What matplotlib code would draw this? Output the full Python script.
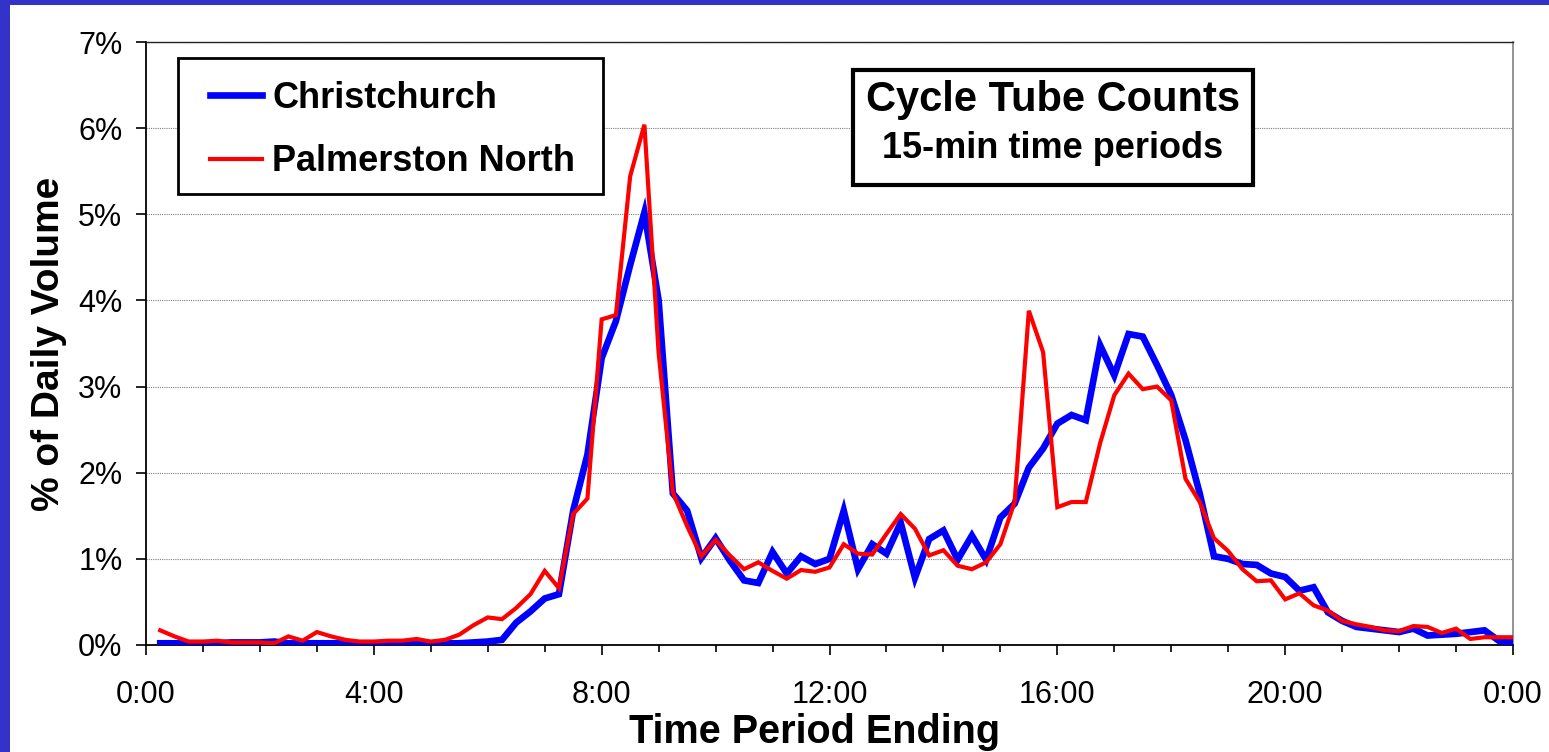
import matplotlib
matplotlib.use("Agg")
import matplotlib.pyplot as plt
from matplotlib.patches import Rectangle
from matplotlib.ticker import FixedLocator, FuncFormatter
import numpy as np

plt.rcParams['font.family'] = ['Liberation Sans', 'DejaVu Sans']

# 15-minute periods ending 0:15 ... 24:00 (hours)
period_end_hours = [(i + 1) * 0.25 for i in range(96)]

christchurch = [
    0.02, 0.02, 0.02, 0.02, 0.02, 0.03, 0.03, 0.03, 0.04, 0.02, 0.02, 0.02,
    0.02, 0.02, 0.02, 0.02, 0.02, 0.02, 0.02, 0.02, 0.02, 0.02, 0.03, 0.04,
    0.06, 0.26, 0.39, 0.54, 0.59, 1.56, 2.21, 3.33, 3.76, 4.41, 5.02, 4.00,
    1.76, 1.56, 1.01, 1.24,
    0.98, 0.75, 0.72, 1.08, 0.83, 1.03, 0.94, 1.00, 1.56, 0.88, 1.17, 1.06,
    1.42, 0.78, 1.23, 1.33, 0.99, 1.27, 0.99, 1.48,
    1.64, 2.06, 2.28, 2.57, 2.67, 2.61, 3.48, 3.13, 3.61, 3.58, 3.25, 2.90,
    2.38, 1.76, 1.03, 1.00,
    0.94, 0.93, 0.83, 0.79, 0.63, 0.67, 0.38, 0.28, 0.21, 0.19, 0.17, 0.15,
    0.19, 0.11, 0.12, 0.13, 0.15, 0.17, 0.05, 0.03,
]

palmerston_north = [
    0.17, 0.10, 0.04, 0.04, 0.05, 0.03, 0.03, 0.03, 0.02, 0.10, 0.05, 0.15,
    0.10, 0.06, 0.04, 0.04, 0.05, 0.05, 0.07, 0.04, 0.06, 0.12, 0.23, 0.32,
    0.30, 0.43, 0.59, 0.86, 0.66, 1.52, 1.70, 3.78, 3.83, 5.44, 6.04, 3.39,
    1.77, 1.38, 1.03, 1.22,
    1.04, 0.88, 0.96, 0.86, 0.77, 0.87, 0.85, 0.90, 1.17, 1.06, 1.05, 1.29,
    1.52, 1.35, 1.04, 1.10, 0.92, 0.88, 0.96, 1.17,
    1.66, 3.88, 3.40, 1.60, 1.66, 1.66, 2.34, 2.90, 3.15, 2.97, 3.00, 2.84,
    1.93, 1.66, 1.24, 1.09,
    0.88, 0.74, 0.75, 0.53, 0.60, 0.46, 0.40, 0.28, 0.24, 0.21, 0.17, 0.16,
    0.22, 0.21, 0.14, 0.19, 0.07, 0.09, 0.09, 0.09,
]

x_tick_hours = [0, 4, 8, 12, 16, 20, 24]
x_tick_labels = ["0:00", "4:00", "8:00", "12:00", "16:00", "20:00", "0:00"]
y_ticks = [0, 1, 2, 3, 4, 5, 6, 7]

W, H = 1549, 752
fig = plt.figure(figsize=(W / 100, H / 100), dpi=100)
fig.patch.set_facecolor("white")

# blue frame strips (top and left)
border = "#3333cc"
fig.patches.append(Rectangle((0, 1 - 5 / H), 1, 5 / H, transform=fig.transFigure,
                             facecolor=border, edgecolor="none", zorder=0))
fig.patches.append(Rectangle((0, 0), 10 / W, 1, transform=fig.transFigure,
                             facecolor=border, edgecolor="none", zorder=0))

ax_l, ax_r, ax_t, ax_b = 146, 1513, 42, 645
ax = fig.add_axes([ax_l / W, (H - ax_b) / H, (ax_r - ax_l) / W, (ax_b - ax_t) / H])

ax.plot(period_end_hours, christchurch, color="#0000ff", lw=4.8,
        solid_joinstyle="miter", label="Christchurch", zorder=3)
ax.plot(period_end_hours, palmerston_north, color="#ff0000", lw=3.0,
        solid_joinstyle="miter", label="Palmerston North", zorder=4)

ax.set_xlim(0, 24)
ax.set_ylim(0, 7)

ax.yaxis.set_major_locator(FixedLocator(y_ticks))
ax.yaxis.set_major_formatter(FuncFormatter(lambda v, p: f"{int(round(v))}%"))
ax.xaxis.set_major_locator(FixedLocator(x_tick_hours))
ax.set_xticklabels(x_tick_labels)
ax.xaxis.set_minor_locator(FixedLocator(list(range(25))))

ax.tick_params(axis="y", direction="out", length=7, width=1.2, labelsize=22, pad=10)
ax.tick_params(axis="x", which="major", direction="out", length=7, width=1.2,
               labelsize=22, pad=18)
ax.tick_params(axis="x", which="minor", direction="out", length=5, width=1.2)

ax.grid(axis="y", color="#808080", linestyle=(0, (1, 1)), linewidth=0.8, zorder=1)
for s in ["left", "bottom"]:
    ax.spines[s].set_color("black")
    ax.spines[s].set_linewidth(1.3)
ax.spines["top"].set_color("#222222")
ax.spines["top"].set_linewidth(1.0)
ax.spines["right"].set_color("#808080")
ax.spines["right"].set_linewidth(1.2)

ax.set_ylabel("% of Daily Volume", fontsize=28, fontweight="bold")
ax.yaxis.set_label_coords(-0.058, 0.5)
ax.set_xlabel("Time Period Ending", fontsize=28.5, fontweight="bold")
ax.xaxis.set_label_coords(0.489, -0.113)

# legend: frame drawn as a rectangle, entries placed inside
ax.add_patch(Rectangle((0.0234, 0.7479), 0.3343 - 0.0234, 0.9735 - 0.7479,
                       transform=ax.transAxes, facecolor="white",
                       edgecolor="black", linewidth=2.0, zorder=5))
leg = ax.legend(loc="upper left", bbox_to_anchor=(0.0468, 0.9353),
                borderaxespad=0, borderpad=0, frameon=False,
                prop={"weight": "bold", "size": 26}, handlelength=1.44,
                handletextpad=0.28, labelspacing=0.78)
leg.set_zorder(6)

# title box
ax.add_patch(Rectangle((0.5172, 0.7629), 0.8098 - 0.5172, 0.9536 - 0.7629,
                       transform=ax.transAxes, facecolor="white",
                       edgecolor="black", linewidth=3.0, zorder=6))
ax.text(0.6635, 0.9040, "Cycle Tube Counts", transform=ax.transAxes,
        ha="center", va="center", fontsize=30, fontweight="bold", zorder=7)
ax.text(0.6635, 0.8230, "15-min time periods", transform=ax.transAxes,
        ha="center", va="center", fontsize=26, fontweight="bold", zorder=7)

fig.savefig("out.png", dpi=100, facecolor="white")
